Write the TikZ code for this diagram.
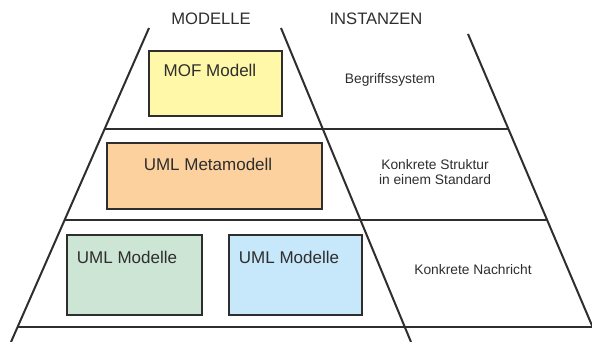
\documentclass[tikz,border=0pt]{standalone}
\usepackage{fontspec}
\setmainfont{Liberation Sans}
\usepackage{xcolor}
\usepackage{tikz}

\definecolor{ink}{HTML}{2E2E2E}
\definecolor{mofyellow}{HTML}{FFF8A8}
\definecolor{metaorange}{HTML}{FDD19E}
\definecolor{umlgreen}{HTML}{CDE5D4}
\definecolor{umlblue}{HTML}{C7E8FA}

\tikzset{
    frameline/.style={line width=2pt, draw=ink},
    modbox/.style={rectangle, draw=ink, line width=1.6pt, anchor=north west, inner sep=0pt},
    boxtext/.style={text=ink, font=\fontsize{17}{19}\selectfont},
    heading/.style={text=ink, font=\fontsize{16.6}{19}\selectfont},
    insttext/.style={text=ink, align=center, font=\fontsize{13.8}{15.5}\selectfont}
}

\begin{document}
\begin{tikzpicture}[x=1pt,y=-1pt]
    \useasboundingbox (0,0) rectangle (592,342);

    % the two trapezoids
    \draw[frameline] (149,28) -- (11,342);
    \draw[frameline] (281,28) -- (411,342);
    \draw[frameline] (468,34) -- (599,342);
    \draw[frameline] (104,129) -- (509,129);
    \draw[frameline] (65,220) -- (548,220);
    \draw[frameline] (18,327) -- (592,327);

    \node[heading] (modelle) at (211,19) {MODELLE};
    \node[heading] (instanzen) at (376,19) {INSTANZEN};

    % boxes on the model side
    \node[modbox, fill=mofyellow, minimum width=133pt, minimum height=65pt] (mof) at (148,50) {};
    \node[boxtext] (mofT) at (210,70) {MOF Modell};

    \node[modbox, fill=metaorange, minimum width=215pt, minimum height=66pt] (meta) at (106,142) {};
    \node[boxtext] (metaT) at (208,164) {UML Metamodell};

    \node[modbox, fill=umlgreen, minimum width=135pt, minimum height=80pt] (umlA) at (66,234) {};
    \node[boxtext] (umlAT) at (127,257) {UML Modelle};

    \node[modbox, fill=umlblue, minimum width=133pt, minimum height=80pt] (umlB) at (228,234) {};
    \node[boxtext] (umlBT) at (289,257) {UML Modelle};

    % instances
    \node[insttext] (begriff) at (390,80) {Begriffssystem};
    \node[insttext] (struktur) at (435,172) {Konkrete Struktur\\in einem Standard};
    \node[insttext] (nachricht) at (473,270) {Konkrete Nachricht};
\end{tikzpicture}
\end{document}
